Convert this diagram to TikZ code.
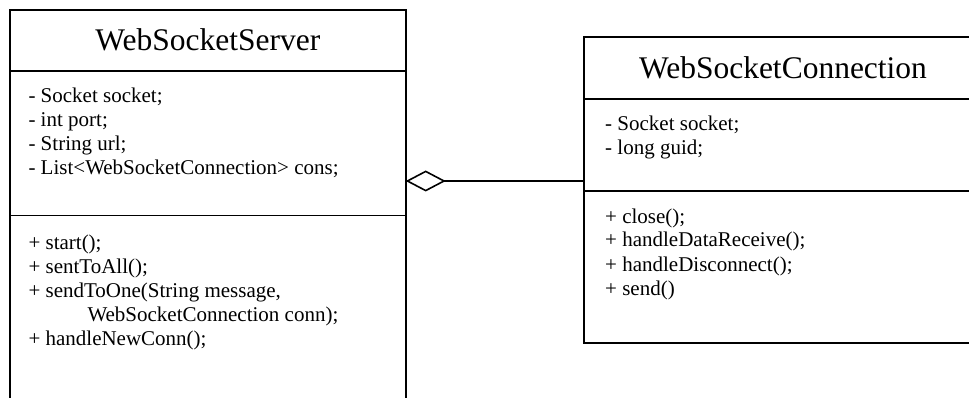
\documentclass[tikz,border=0pt]{standalone}
\usepackage{fontspec}
\setmainfont{Liberation Serif}
\usetikzlibrary{arrows.meta}
\begin{document}
\begin{tikzpicture}[x=1pt,y=-1pt,
  box/.style={draw, line width=1.7pt, rectangle, inner sep=0pt, outer sep=0pt},
  sepline/.style={line width=1.7pt},
  classtitle/.style={anchor=base, inner sep=0pt, font=\fontsize{31.5}{36}\selectfont},
  member/.style={anchor=base west, inner sep=0pt, font=\fontsize{21}{24}\selectfont},
  agg/.style={line width=1.6pt, -{Diamond[open, length=40pt, width=21pt]}}]
\useasboundingbox (0,0) rectangle (969,398);
\clip (0,0) rectangle (969,398);
% WebSocketServer
\node[box, minimum width=395.7pt, minimum height=410pt] (srv) at (207.85,215) {};
\coordinate (sy1) at (0,71.3);
\coordinate (sy2) at (0,215.5);
\draw[sepline] (srv.west |- sy1) -- (srv.east |- sy1);
\draw[sepline] (srv.west |- sy2) -- (srv.east |- sy2);
\node[classtitle] (srvtitle) at (207.85,50.5) {WebSocketServer};
\node[member] (sa1) at (28.3,102.2) {- Socket socket;};
\node[member] (sa2) at (28.3,126.2) {- int port;};
\node[member] (sa3) at (28.3,150.2) {- String url;};
\node[member] (sa4) at (28.3,174.2) {- List<WebSocketConnection> cons;};
\node[member] (sm1) at (28.3,249.5) {+ start();};
\node[member] (sm2) at (28.3,273.5) {+ sentToAll();};
\node[member] (sm3) at (28.3,297.5) {+ sendToOne(String message,};
\node[member] (sm4) at (87.3,321.5) {WebSocketConnection conn);};
\node[member] (sm5) at (28.3,345.5) {+ handleNewConn();};
% WebSocketConnection
\node[box, minimum width=398pt, minimum height=305.4pt] (conn) at (783,190) {};
\coordinate (cy1) at (0,99.3);
\coordinate (cy2) at (0,191);
\draw[sepline] (conn.west |- cy1) -- (conn.east |- cy1);
\draw[sepline] (conn.west |- cy2) -- (conn.east |- cy2);
\node[classtitle] (conntitle) at (783,78.5) {WebSocketConnection};
\node[member] (ca1) at (605,130.3) {- Socket socket;};
\node[member] (ca2) at (605,154.3) {- long guid;};
\node[member] (cm1) at (605,223) {+ close();};
\node[member] (cm2) at (605,247) {+ handleDataReceive();};
\node[member] (cm3) at (605,271) {+ handleDisconnect();};
\node[member] (cm4) at (605,295) {+ send()};
% aggregation
\coordinate (aggy) at (0,181);
\draw[agg] (conn.west |- aggy) -- (srv.east |- aggy);
\end{tikzpicture}
\end{document}
